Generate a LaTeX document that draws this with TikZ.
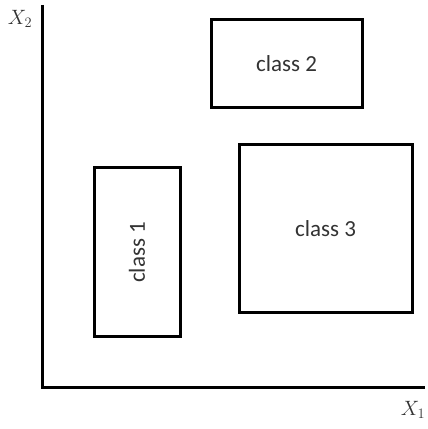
\documentclass[tikz,border=0pt]{standalone}
\usepackage{fontspec}
\setsansfont{Carlito}
\usetikzlibrary{positioning}

\begin{document}
\begin{tikzpicture}[
  x=1pt, y=1pt,
  every node/.style={font=\sffamily},
  axis/.style={draw=black, line width=3pt},
  region/.style={draw=black, line width=3pt, fill=white, inner sep=0pt,
    align=center, font=\sffamily\fontsize{23}{27}\selectfont, text=black!80},
  axlab/.style={font=\fontsize{21}{24}\selectfont, text=black!80}
]
  \useasboundingbox (0,0) rectangle (428,429);
  % axes
  \coordinate (origin) at (42,41);
  \coordinate (ytop) at (42,424);
  \coordinate (xend) at (425,41);
  \draw[axis] (ytop) |- (xend);
  \node[axlab] (xtwo) at (20,410) {$X_2$};
  \node[axlab] (xone) at (413,19) {$X_1$};

  % class regions
  \node[region, minimum width=169, minimum height=86, rotate=90] (classone) at (137,176.5) {class 1};
  \node[region, minimum width=151, minimum height=88] (classtwo) at (286.5,365) {class 2};
  \node[region, minimum width=173, minimum height=168] (classthree) at (325.5,200) {class 3};
\end{tikzpicture}
\end{document}
